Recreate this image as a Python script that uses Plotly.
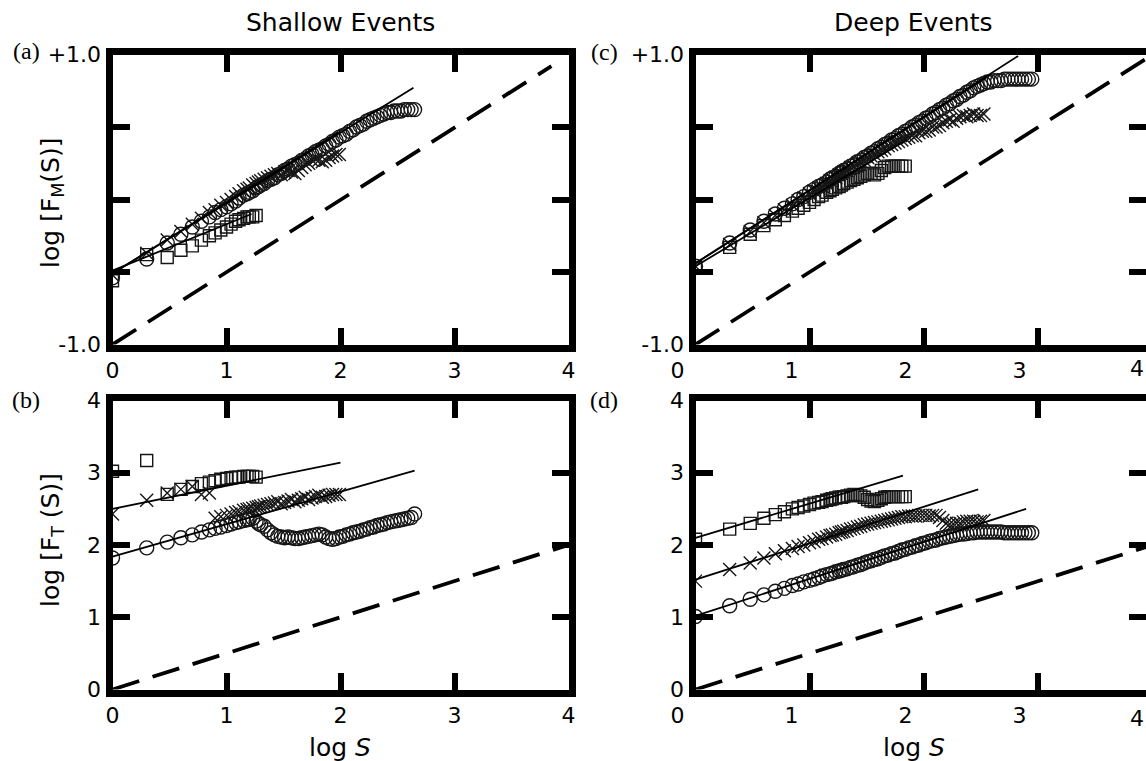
import plotly.graph_objects as go

W, H = 1146, 761

# ---------------- data ----------------
log_S = [0.00, 0.30, 0.48, 0.60, 0.70, 0.78, 0.85, 0.90, 0.95, 1.00,
         1.04, 1.08, 1.11, 1.15, 1.18, 1.20, 1.23, 1.26, 1.28, 1.30,
         1.33, 1.36, 1.39, 1.42, 1.45, 1.48, 1.51, 1.54, 1.57, 1.60,
         1.63, 1.66, 1.69, 1.72, 1.75, 1.78, 1.81, 1.84, 1.87, 1.90,
         1.93, 1.96, 1.99, 2.02, 2.05, 2.08, 2.11, 2.14, 2.17, 2.20,
         2.23, 2.26, 2.29, 2.32, 2.35, 2.38, 2.41, 2.44, 2.47, 2.50,
         2.53, 2.56, 2.59, 2.62, 2.65, 2.68, 2.71, 2.74, 2.77, 2.80,
         2.83, 2.86, 2.89, 2.92, 2.95]

# (a) shallow, log F_M
a_circles = [-0.54, -0.41, -0.30, -0.24, -0.19, -0.15, -0.12, -0.09, -0.07, -0.05,
             -0.03, -0.01, 0.01, 0.03, 0.04, 0.05, 0.06, 0.08, 0.09, 0.10,
             0.11, 0.13, 0.14, 0.15, 0.17, 0.18, 0.20, 0.21, 0.23, 0.24,
             0.25, 0.27, 0.28, 0.30, 0.31, 0.33, 0.34, 0.35, 0.37, 0.38,
             0.40, 0.41, 0.43, 0.44, 0.45, 0.47, 0.48, 0.50, 0.51, 0.52,
             0.54, 0.55, 0.56, 0.57, 0.58, 0.59, 0.60, 0.60, 0.61, 0.61,
             0.61, 0.62, 0.62, 0.62, 0.62]
a_crosses = [-0.52, -0.37, -0.28, -0.22, -0.17, -0.13, -0.09, -0.07, -0.04, -0.02,
             0.00, 0.02, 0.04, 0.06, 0.07, 0.08, 0.10, 0.11, 0.12, 0.13,
             0.14, 0.15, 0.16, 0.17, 0.18, 0.17, 0.19, 0.20, 0.19, 0.18,
             0.20, 0.22, 0.24, 0.25, 0.27, 0.28, 0.27, 0.26, 0.27, 0.29,
             0.30, 0.31, 0.31]
a_squares = [-0.56, -0.38, -0.40, -0.35, -0.32, -0.28, -0.25, -0.23, -0.21, -0.19,
             -0.17, -0.15, -0.14, -0.13, -0.12, -0.12, -0.12, -0.11]
a_fit_x = [[0, 2.64], [0, 2.00], [0, 1.22]]
a_fit_y = [[-0.51, 0.77], [-0.51, 0.47], [-0.49, -0.10]]
a_ref_x = [0, 3.85]
a_ref_y = [-1.0, 0.92]

# (b) shallow, log F_T
b_circles = [1.82, 1.96, 2.04, 2.10, 2.14, 2.18, 2.21, 2.23, 2.25, 2.27,
             2.29, 2.31, 2.32, 2.34, 2.35, 2.36, 2.37, 2.33, 2.30, 2.28,
             2.26, 2.21, 2.17, 2.14, 2.12, 2.11, 2.10, 2.11, 2.10, 2.09,
             2.09, 2.10, 2.11, 2.12, 2.13, 2.14, 2.15, 2.14, 2.11, 2.09,
             2.08, 2.09, 2.11, 2.12, 2.14, 2.15, 2.17, 2.18, 2.19, 2.21,
             2.22, 2.24, 2.25, 2.27, 2.28, 2.29, 2.31, 2.32, 2.33, 2.34,
             2.35, 2.36, 2.37, 2.38, 2.43]
b_crosses = [2.43, 2.62, 2.72, 2.77, 2.81, 2.70, 2.72, 2.37, 2.39, 2.41,
             2.43, 2.45, 2.46, 2.48, 2.49, 2.50, 2.51, 2.52, 2.53, 2.54,
             2.55, 2.56, 2.57, 2.58, 2.60, 2.57, 2.59, 2.61, 2.63, 2.60,
             2.62, 2.64, 2.66, 2.63, 2.65, 2.67, 2.69, 2.66, 2.67, 2.69,
             2.70, 2.70, 2.70]
b_squares = [3.02, 3.17, 2.70, 2.77, 2.81, 2.85, 2.87, 2.89, 2.91, 2.92,
             2.93, 2.94, 2.94, 2.95, 2.95, 2.95, 2.95, 2.94]
b_fit_x = [[0, 2.00], [0, 2.65]]
b_fit_y = [[2.50, 3.14], [1.84, 3.03]]
b_ref_x = [0, 4.0]
b_ref_y = [0.0, 2.0]

# (c) deep, log F_M
c_circles = [-0.46, -0.30, -0.21, -0.15, -0.10, -0.06, -0.03, 0.00, 0.02, 0.05,
             0.07, 0.09, 0.10, 0.12, 0.14, 0.15, 0.16, 0.18, 0.19, 0.20,
             0.21, 0.23, 0.24, 0.26, 0.27, 0.29, 0.30, 0.32, 0.33, 0.35,
             0.36, 0.38, 0.39, 0.41, 0.42, 0.44, 0.45, 0.47, 0.48, 0.50,
             0.51, 0.53, 0.54, 0.56, 0.57, 0.59, 0.60, 0.62, 0.63, 0.65,
             0.66, 0.68, 0.69, 0.71, 0.72, 0.74, 0.75, 0.77, 0.78, 0.79,
             0.80, 0.81, 0.81, 0.82, 0.82, 0.82, 0.83, 0.83, 0.83, 0.83,
             0.83, 0.83, 0.83, 0.83, 0.83]
c_crosses = [-0.46, -0.31, -0.22, -0.16, -0.11, -0.07, -0.04, -0.01, 0.01, 0.04,
             0.06, 0.08, 0.09, 0.11, 0.13, 0.14, 0.15, 0.17, 0.18, 0.19,
             0.20, 0.22, 0.23, 0.25, 0.26, 0.27, 0.29, 0.30, 0.31, 0.33,
             0.34, 0.35, 0.37, 0.38, 0.39, 0.40, 0.41, 0.42, 0.43, 0.44,
             0.44, 0.46, 0.47, 0.47, 0.48, 0.50, 0.50, 0.51, 0.53, 0.54,
             0.55, 0.54, 0.56, 0.57, 0.58, 0.57, 0.58, 0.59, 0.58, 0.58,
             0.59]
c_squares = [-0.47, -0.33, -0.24, -0.18, -0.14, -0.11, -0.08, -0.06, -0.04, -0.02,
             0.00, 0.02, 0.03, 0.05, 0.06, 0.07, 0.08, 0.09, 0.10, 0.11,
             0.12, 0.13, 0.14, 0.15, 0.16, 0.17, 0.18, 0.18, 0.17, 0.18,
             0.20, 0.22, 0.23, 0.23, 0.23, 0.23, 0.23, 0.23]
c_fit_x = [[0, 2.83], [0, 2.55], [0, 1.85]]
c_fit_y = [[-0.44, 0.99], [-0.44, 0.84], [-0.46, 0.41]]
c_ref_x = [0, 3.95]
c_ref_y = [-1.0, 0.97]

# (d) deep, log F_T
d_circles = [1.01, 1.16, 1.25, 1.31, 1.36, 1.40, 1.44, 1.46, 1.49, 1.51,
             1.53, 1.55, 1.57, 1.59, 1.60, 1.61, 1.63, 1.64, 1.65, 1.66,
             1.67, 1.69, 1.70, 1.72, 1.73, 1.75, 1.77, 1.78, 1.80, 1.81,
             1.83, 1.85, 1.86, 1.88, 1.89, 1.91, 1.93, 1.94, 1.96, 1.97,
             1.99, 2.00, 2.02, 2.03, 2.05, 2.06, 2.07, 2.09, 2.10, 2.11,
             2.12, 2.13, 2.14, 2.15, 2.15, 2.16, 2.17, 2.17, 2.18, 2.18,
             2.18, 2.18, 2.18, 2.18, 2.18, 2.18, 2.17, 2.17, 2.17, 2.17,
             2.17, 2.17, 2.17, 2.17, 2.17]
d_crosses = [1.50, 1.66, 1.75, 1.82, 1.88, 1.92, 1.95, 1.98, 2.00, 2.03,
             2.05, 2.08, 2.09, 2.11, 2.13, 2.14, 2.15, 2.17, 2.18, 2.19,
             2.20, 2.22, 2.23, 2.25, 2.26, 2.28, 2.29, 2.30, 2.31, 2.32,
             2.33, 2.34, 2.35, 2.36, 2.37, 2.38, 2.39, 2.39, 2.40, 2.40,
             2.40, 2.41, 2.41, 2.41, 2.40, 2.41, 2.41, 2.38, 2.34, 2.30,
             2.29, 2.29, 2.30, 2.30, 2.32, 2.33, 2.33, 2.33, 2.32, 2.33,
             2.34]
d_squares = [2.08, 2.22, 2.30, 2.37, 2.42, 2.46, 2.50, 2.52, 2.54, 2.56,
             2.58, 2.59, 2.60, 2.62, 2.63, 2.64, 2.65, 2.66, 2.66, 2.67,
             2.68, 2.69, 2.70, 2.69, 2.68, 2.66, 2.63, 2.61, 2.60, 2.62,
             2.64, 2.66, 2.67, 2.67, 2.67, 2.67, 2.67, 2.67]
d_fit_x = [[0, 1.82], [0, 2.48], [0, 2.90]]
d_fit_y = [[2.10, 2.96], [1.52, 2.77], [1.02, 2.50]]
d_ref_x = [0, 3.95]
d_ref_y = [0.0, 1.97]

x_ticks = [0, 1, 2, 3, 4]
fm_ticks = [-1.0, 1.0]
fm_text = ["-1.0", "+1.0"]
fm_minor = [-0.5, 0.0, 0.5]
ft_ticks = [0, 1, 2, 3, 4]
ft_text = ["0", "1", "2", "3", "4"]
col_titles = ["Shallow Events", "Deep Events"]
panel_tags = ["(a)", "(b)", "(c)", "(d)"]

# ---------------- layout helpers (pixels -> paper) ----------------
def px_x(p):
    return p / W

def px_y(p):
    return 1 - p / H

INK = "#161616"
SANS = "DejaVu Sans"
SERIF = "Liberation Serif"

fig = go.Figure()

panels = [
    ("x", "y", a_circles, a_crosses, a_squares, a_fit_x, a_fit_y, a_ref_x, a_ref_y),
    ("x2", "y2", b_circles, b_crosses, b_squares, b_fit_x, b_fit_y, b_ref_x, b_ref_y),
    ("x3", "y3", c_circles, c_crosses, c_squares, c_fit_x, c_fit_y, c_ref_x, c_ref_y),
    ("x4", "y4", d_circles, d_crosses, d_squares, d_fit_x, d_fit_y, d_ref_x, d_ref_y),
]

for xa, ya, circ, cros, sq, fx, fy, rx, ry in panels:
    fig.add_trace(go.Scatter(x=rx, y=ry, xaxis=xa, yaxis=ya, mode="lines",
                             line=dict(color="black", width=3.8, dash="28px,14px"),
                             hoverinfo="skip"))
    fig.add_trace(go.Scatter(x=log_S[:len(sq)], y=sq, xaxis=xa, yaxis=ya, mode="markers",
                             marker=dict(symbol="square-open", size=12, color=INK,
                                         line=dict(width=1.4, color=INK))))
    fig.add_trace(go.Scatter(x=log_S[:len(cros)], y=cros, xaxis=xa, yaxis=ya, mode="markers",
                             marker=dict(symbol="x-thin-open", size=13, color=INK,
                                         line=dict(width=1.4, color=INK))))
    fig.add_trace(go.Scatter(x=log_S[:len(circ)], y=circ, xaxis=xa, yaxis=ya, mode="markers",
                             marker=dict(symbol="circle-open", size=14, color=INK,
                                         line=dict(width=1.4, color=INK))))
    for lx, ly in zip(fx, fy):
        fig.add_trace(go.Scatter(x=lx, y=ly, xaxis=xa, yaxis=ya, mode="lines",
                                 line=dict(color="black", width=1.8), hoverinfo="skip"))

# panel geometry (inner edges of the frames, pixels)
L_LEFT, L_RIGHT = 112.5, 568.5
R_LEFT = 695.5
TOP_T, TOP_B = 54.5, 344.5
BOT_T, BOT_B = 400.5, 689.5
unit = (L_RIGHT - L_LEFT) / 4.0
r_max = (W - R_LEFT) / unit

tick_style = dict(ticks="inside", ticklen=17, tickwidth=6, tickcolor="black")
axis_style = dict(showline=True, linewidth=7, linecolor="black", mirror="ticks",
                  showgrid=False, zeroline=False, automargin=False,
                  tickfont=dict(family=SANS, size=22, color="black"), **tick_style)

def xaxis(dom, rng, anchor, shift=0):
    d = dict(axis_style)
    d.update(domain=dom, range=rng, anchor=anchor, tickmode="array",
             tickvals=x_ticks, ticktext=[str(t) for t in x_ticks],
             ticklabelshift=shift)
    return d

def yaxis(dom, rng, anchor, vals, text, minor=None):
    d = dict(axis_style)
    d.update(domain=dom, range=rng, anchor=anchor, tickmode="array",
             tickvals=vals, ticktext=text)
    if minor:
        d["minor"] = dict(tickmode="array", tickvals=minor, showgrid=False, **tick_style)
    return d

dom_xl = [px_x(L_LEFT), px_x(L_RIGHT)]
dom_xr = [px_x(R_LEFT), 1.0]
dom_yt = [px_y(TOP_B), px_y(TOP_T)]
dom_yb = [px_y(BOT_B), px_y(BOT_T)]

fig.update_layout(
    width=W, height=H, margin=dict(l=0, r=0, t=0, b=0, autoexpand=False),
    paper_bgcolor="white", plot_bgcolor="white", showlegend=False,
    xaxis=xaxis(dom_xl, [0, 4], "y"),
    yaxis=yaxis(dom_yt, [-1, 1], "x", fm_ticks, fm_text, fm_minor),
    xaxis2=xaxis(dom_xl, [0, 4], "y2"),
    yaxis2=yaxis(dom_yb, [0, 4], "x2", ft_ticks, ft_text),
    xaxis3=xaxis(dom_xr, [0, r_max], "y3", shift=-18),
    yaxis3=yaxis(dom_yt, [-1, 1], "x3", fm_ticks, fm_text, fm_minor),
    xaxis4=xaxis(dom_xr, [0, r_max], "y4", shift=-18),
    yaxis4=yaxis(dom_yb, [0, 4], "x4", ft_ticks, ft_text),
)

ann = []
def add_text(text, x, y, size, family=SANS, angle=0):
    ann.append(dict(text=text, x=px_x(x), y=px_y(y), xref="paper", yref="paper",
                    showarrow=False, textangle=angle, xanchor="center", yanchor="middle",
                    font=dict(family=family, size=size, color="black")))

add_text(col_titles[0], 340, 23, 25)
add_text(col_titles[1], 913, 23, 25)
add_text(panel_tags[0], 26, 51, 24, SERIF)
add_text(panel_tags[1], 26, 400, 24, SERIF)
add_text(panel_tags[2], 604, 52, 24, SERIF)
add_text(panel_tags[3], 604, 400, 24, SERIF)
add_text("log [F<sub>M</sub>(S)]", 52, 203, 25, angle=-90)
add_text("log [F<sub>T</sub> (S)]", 52, 540, 25, angle=-90)
add_text("log <i>S</i>", 340, 747, 25)
add_text("log <i>S</i>", 914, 747, 25)
add_text("4", 1137, 368, 22)
add_text("4", 1137, 718, 22)
fig.update_layout(annotations=ann)

fig.write_html("out.html")
